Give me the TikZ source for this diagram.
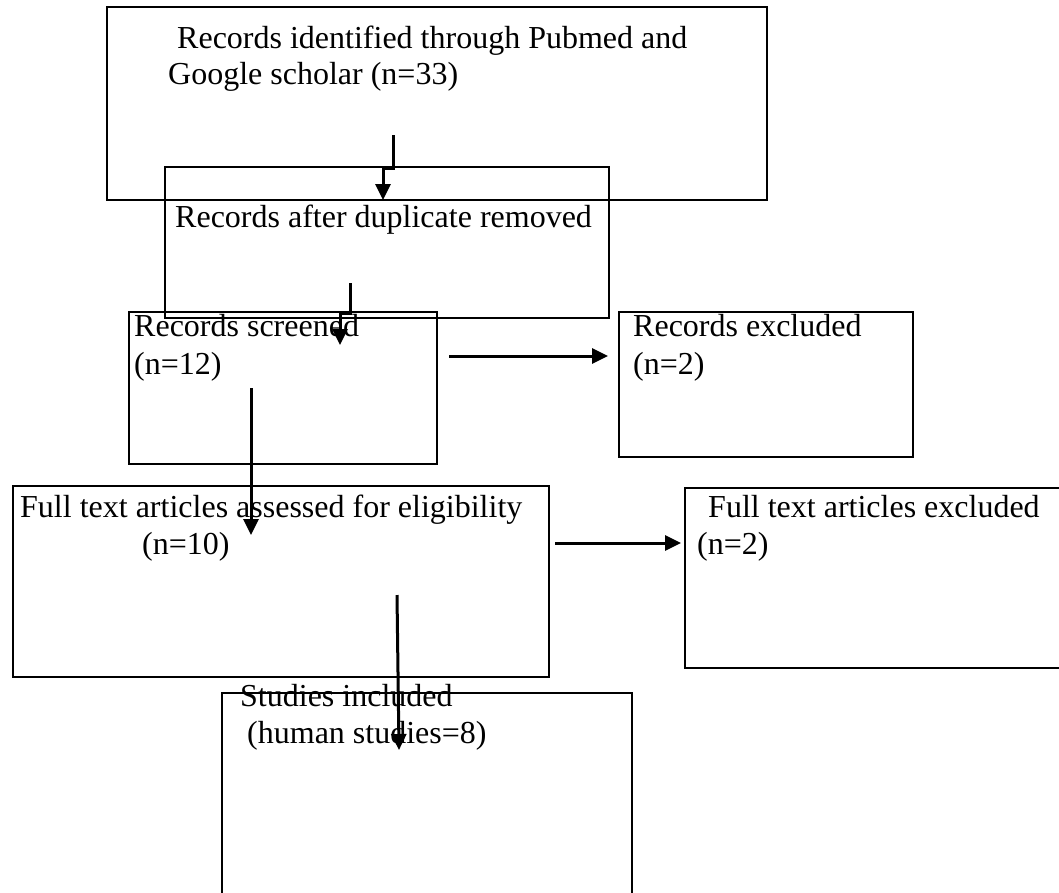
\documentclass[tikz,border=0pt]{standalone}
\usepackage{fontspec}
\setmainfont{Liberation Serif}
\usetikzlibrary{arrows.meta}
\begin{document}
\begin{tikzpicture}[x=1pt,y=-1pt,
  boxframe/.style={draw,line width=2pt,inner sep=0pt,outer sep=0pt,anchor=north west},
  txt/.style={anchor=base west,inner sep=0pt,font=\fontsize{32}{37}\selectfont},
  conn/.style={line width=3pt,-{Triangle[length=16pt,width=15pt]}}]
\useasboundingbox (0,0) rectangle (1059,892);
% boxes
\node[boxframe,minimum width=660pt,minimum height=193pt] (b1) at (107,7) {};
\node[boxframe,minimum width=444pt,minimum height=151pt] (b2) at (165,167) {};
\node[boxframe,minimum width=308pt,minimum height=152pt] (b3) at (129,312) {};
\node[boxframe,minimum width=294pt,minimum height=145pt] (b4) at (619,312) {};
\node[boxframe,minimum width=536pt,minimum height=191pt] (b5) at (13,486) {};
\node[boxframe,minimum width=400pt,minimum height=180pt] (b6) at (685,488) {};
\node[boxframe,minimum width=410pt,minimum height=230pt] (b7) at (222,693) {};
% texts
\node[txt] (t1a) at (177,48) {Records identified through Pubmed and};
\node[txt] (t1b) at (168,84) {Google scholar (n=33)};
\node[txt] (t2) at (175,227) {Records after duplicate removed};
\node[txt] (t3a) at (134,336) {Records screened};
\node[txt] (t3b) at (134,374) {(n=12)};
\node[txt] (t4a) at (633,336) {Records excluded};
\node[txt] (t4b) at (633,374) {(n=2)};
\node[txt] (t5a) at (20,517) {Full text articles assessed for eligibility};
\node[txt] (t5b) at (142,554) {(n=10)};
\node[txt] (t6a) at (708,517) {Full text articles excluded};
\node[txt] (t6b) at (697,554) {(n=2)};
\node[txt] (t7a) at (240,706) {Studies included};
\node[txt] (t7b) at (247,743) {(human studies=8)};
% connector endpoints
\coordinate (a1s) at (393,135); \coordinate (a1m) at (393,168); \coordinate (a1n) at (383,168); \coordinate (a1e) at (383,200);
\coordinate (a2s) at (350,283); \coordinate (a2m) at (350,313); \coordinate (a2n) at (340,313); \coordinate (a2e) at (340,345);
\coordinate (a3s) at (449,356); \coordinate (a3e) at (608,356);
\coordinate (a4s) at (251,388); \coordinate (a4e) at (251,535);
\coordinate (a5s) at (555,543); \coordinate (a5e) at (681,543);
\coordinate (a6s) at (397,595); \coordinate (a6e) at (399,750);
% connectors
\draw[conn] (a1s) -- (a1m) -- (a1n) -- (a1e);
\draw[conn] (a2s) -- (a2m) -- (a2n) -- (a2e);
\draw[conn] (a3s) -- (a3e);
\draw[conn] (a4s) -- (a4e);
\draw[conn] (a5s) -- (a5e);
\draw[conn] (a6s) -- (a6e);
\end{tikzpicture}
\end{document}
